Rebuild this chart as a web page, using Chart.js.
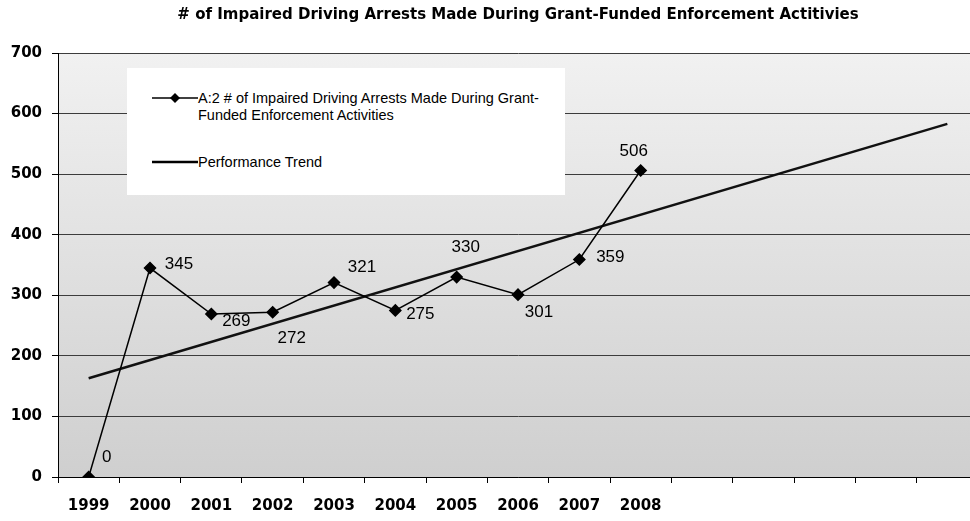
<!DOCTYPE html>
<html>
<head>
<meta charset="utf-8">
<script src="https://cdn.jsdelivr.net/npm/chart.js@4"></script>
<style>
  html, body { margin: 0; padding: 0; background: #fff; overflow: hidden; }
  #wrap { position: relative; width: 970px; height: 521px; overflow: hidden; }
  #chart { position: absolute; left: 0; top: 0; }
  #legend {
    position: absolute; left: 127px; top: 68px; width: 438px; height: 127px;
    background: #fff; color: #000;
    font-family: 'Liberation Sans', Arial, sans-serif; font-size: 14.5px;
  }
  .item { position: absolute; left: 25px; }
  .item svg { position: absolute; left: 0; }
  .item span { position: absolute; left: 46px; line-height: 17px; white-space: nowrap; }
</style>
</head>
<body>
<div id="wrap">
  <canvas id="chart" width="985" height="521"></canvas>
  <div id="legend">
    <div class="item" style="top:24px">
      <svg width="46" height="12" style="top:0"><line x1="0" y1="6" x2="46" y2="6" stroke="#000" stroke-width="1.5"/><polygon points="23,1 28,6 23,11 18,6" fill="#000"/></svg>
      <span style="top:-2px">A:2 # of Impaired Driving Arrests Made During Grant-<br>Funded Enforcement Activities</span>
    </div>
    <div class="item" style="top:88px">
      <svg width="46" height="12" style="top:0"><line x1="0" y1="6" x2="46" y2="6" stroke="#000" stroke-width="2.5"/></svg>
      <span style="top:-2px">Performance Trend</span>
    </div>
  </div>
</div>
<script>
(function () {
  'use strict';

  // category axis runs on to 2013 (unlabelled) so the trend can extend
  const years = ['1999', '2000', '2001', '2002', '2003', '2004', '2005', '2006', '2007', '2008', '', '', '', '', ''];
  const arrests = [0, 345, 269, 272, 321, 275, 330, 301, 359, 506];
  // straight trend line: only its two ends
  const trend = [163, null, null, null, null, null, null, null, null, null, null, null, null, null, 583];
  const yTicks = [0, 100, 200, 300, 400, 500, 600, 700];

  // where each value label sits relative to its point
  const labelOffsets = [[18, -20], [29, -4], [25, 7], [19, 26], [28, -15], [25, 4], [9, -30], [21, 18], [31, -2], [-7, -19]];

  const plotBackground = {
    id: 'plotBackground',
    beforeDraw(chart) {
      const { ctx, chartArea: a } = chart;
      ctx.save();
      const g = ctx.createLinearGradient(0, a.top, 0, a.bottom);
      g.addColorStop(0, '#f1f1f1');
      g.addColorStop(0.5, '#e0e0e0');
      g.addColorStop(1, '#cfcfcf');
      ctx.fillStyle = g;
      ctx.fillRect(a.left, a.top, a.right - a.left, a.bottom - a.top);
      ctx.restore();
    },
  };

  const valueLabels = {
    id: 'valueLabels',
    afterDatasetsDraw(chart) {
      const ctx = chart.ctx;
      const meta = chart.getDatasetMeta(0);
      ctx.save();
      ctx.font = '17px "Liberation Sans", Arial, sans-serif';
      ctx.fillStyle = '#000';
      ctx.textAlign = 'center';
      ctx.textBaseline = 'middle';
      meta.data.forEach((pt, i) => {
        const off = labelOffsets[i] || [20, 0];
        ctx.fillText(String(arrests[i]), pt.x + off[0], pt.y + off[1]);
      });
      ctx.restore();
    },
  };

  const boldFont = '"DejaVu Sans", sans-serif';

  new Chart(document.getElementById('chart'), {
    type: 'line',
    data: {
      labels: years,
      datasets: [
        {
          label: 'A:2 # of Impaired Driving Arrests Made During Grant-Funded Enforcement Activities',
          data: arrests,
          borderColor: '#000',
          backgroundColor: '#000',
          borderWidth: 1.5,
          pointStyle: 'rectRot',
          pointRadius: 5.5,
          pointBackgroundColor: '#000',
          pointBorderColor: '#000',
          tension: 0,
        },
        {
          label: 'Performance Trend',
          data: trend,
          borderColor: '#111',
          borderWidth: 2.5,
          pointRadius: 0,
          spanGaps: true,
          tension: 0,
        },
      ],
    },
    options: {
      responsive: false,
      animation: false,
      layout: { padding: { left: 0, right: 6, top: 0, bottom: 0 } },
      plugins: {
        legend: { display: false },
        tooltip: { enabled: false },
        title: {
          display: true,
          fullSize: false,
          text: '# of Impaired Driving Arrests Made During Grant-Funded Enforcement Actitivies',
          color: '#000',
          font: { family: boldFont, size: 15, weight: 'bold' },
          padding: { top: 6, bottom: 29 },
        },
      },
      scales: {
        x: {
          offset: true,
          grid: { drawOnChartArea: false, drawTicks: true, tickLength: 6, color: '#000', offset: true },
          border: { color: '#000', width: 1 },
          ticks: {
            color: '#000',
            autoSkip: false,
            maxRotation: 0,
            padding: 14,
            font: { family: boldFont, size: 15, weight: 'bold' },
          },
          afterFit: (s) => { s.height = 44; },
        },
        y: {
          min: yTicks[0],
          max: yTicks[yTicks.length - 1],
          afterBuildTicks: (s) => { s.ticks = yTicks.map((v) => ({ value: v })); },
          grid: { color: '#3c3c3c', lineWidth: 1, tickLength: 6, tickColor: '#000' },
          border: { color: '#000', width: 1 },
          ticks: {
            color: '#000',
            padding: 10,
            font: { family: boldFont, size: 15, weight: 'bold' },
          },
          afterFit: (s) => { s.width = 58; },
        },
      },
    },
    plugins: [plotBackground, valueLabels],
  });
})();
</script>
</body>
</html>
